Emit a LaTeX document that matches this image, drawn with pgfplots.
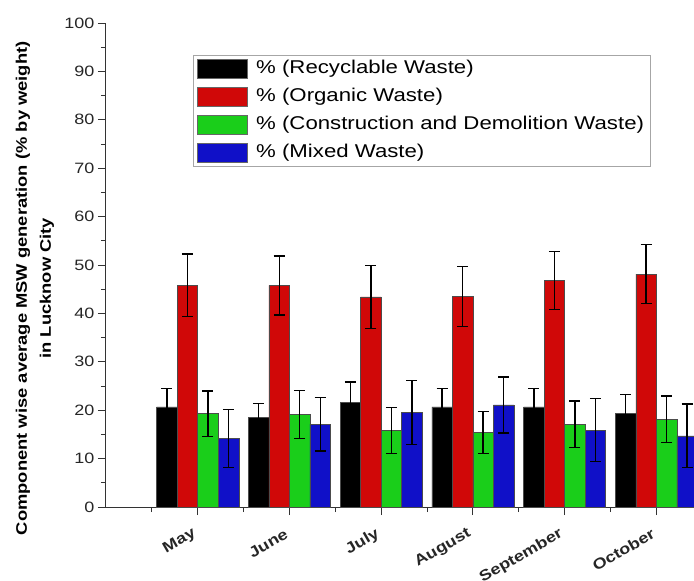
\documentclass[border=0pt]{standalone}
\usepackage{fontspec}
\setmainfont{Liberation Sans}[FakeStretch=1.2]
\usepackage{pgfplots}
\pgfplotsset{compat=1.18}
\usetikzlibrary{calc}
\definecolor{cBlack}{RGB}{0,0,0}
\definecolor{cRed}{RGB}{208,8,8}
\definecolor{cGreen}{RGB}{26,206,26}
\definecolor{cBlue}{RGB}{16,16,200}
\pgfplotstableread{
x rec erec org eorg cnd ecnd mix emix
1 20.7 3.8 45.8 6.5 19.3 4.7 14.2 6.0
2 18.5 2.9 45.8 6.1 19.1 5.0 17.1 5.5
3 21.6 4.2 43.4 6.5 15.8 4.7 19.5 6.6
4 20.7 3.8 43.5 6.2 15.4 4.3 21.1 5.8
5 20.7 3.8 46.8 6.0 17.1 4.8 15.9 6.5
6 19.4 3.8 48.1 6.1 18.1 4.8 14.7 6.6
}\data
\pgfplotsset{
  mylegimg/.style={legend image code/.code={\draw[##1,draw=black!60,line width=0.8bp] (0bp,-9.5bp) rectangle (50bp,9.5bp);}},
  myerr/.style={error bars/.cd, y dir=both, y explicit,
    error bar style={line width=1.4bp, black},
    error mark options={rotate=90, mark size=5.5bp, line width=1.4bp, black}},
  mybar/.style={fill=#1, draw=black!70, line width=0.5bp, mylegimg, myerr}
}
\begin{document}
\begin{tikzpicture}
\useasboundingbox (-106bp,-74bp) rectangle (588bp,507bp);
\begin{axis}[
  at={(0,0)}, anchor=origin,
  scale only axis, width=588bp, height=484bp,
  xmin=0, xmax=6.41, ymin=0, ymax=100,
  axis x line*=bottom, axis y line*=left,
  axis line style={-, line width=1bp, black!80},
  ybar=0pt, bar width=0.2236,
  xtick={1,...,6}, xticklabels={May,June,July,August,September,October},
  minor xtick={0.5,1.5,...,6.5},
  ytick={0,10,...,100}, minor ytick={5,15,...,95},
  tick align=outside, major tick length=8bp, minor tick length=5bp,
  tick style={black!80, line width=0.9bp},
  /pgf/number format/assume math mode=true,
  yticklabel style={font=\fontsize{15bp}{18bp}\selectfont, text=black!85},
  xticklabel style={font=\bfseries\fontsize{15bp}{18bp}\selectfont, text=black!85, rotate=30, anchor=east},
  xticklabel shift=16bp,
  ylabel={Component wise average MSW generation (\% by weight)\\in Lucknow City},
  ylabel style={align=center, font=\bfseries\fontsize{15.3bp}{24bp}\selectfont, at={(axis description cs:-0.1207,0.452)}, anchor=center},
  legend style={at={(axis description cs:0.148,0.934)}, anchor=north west,
    font=\fontsize{18.5bp}{22bp}\selectfont, draw=black!35, line width=0.8bp,
    legend cell align=left, row sep=7.7bp, inner xsep=4bp, inner ysep=3bp,
    nodes={text height=13.5bp, text depth=4bp, inner ysep=1.5bp}},
]
\addplot[mybar=cBlack] table[x=x, y=rec, y error=erec] {\data};
\addlegendentry{\hspace*{6bp}\% (Recyclable Waste)}
\addplot[mybar=cRed] table[x=x, y=org, y error=eorg] {\data};
\addlegendentry{\hspace*{6bp}\% (Organic Waste)}
\addplot[mybar=cGreen] table[x=x, y=cnd, y error=ecnd] {\data};
\addlegendentry{\hspace*{6bp}\% (Construction and Demolition Waste)}
\addplot[mybar=cBlue] table[x=x, y=mix, y error=emix] {\data};
\addlegendentry{\hspace*{6bp}\% (Mixed Waste)}
\end{axis}
\end{tikzpicture}
\end{document}
